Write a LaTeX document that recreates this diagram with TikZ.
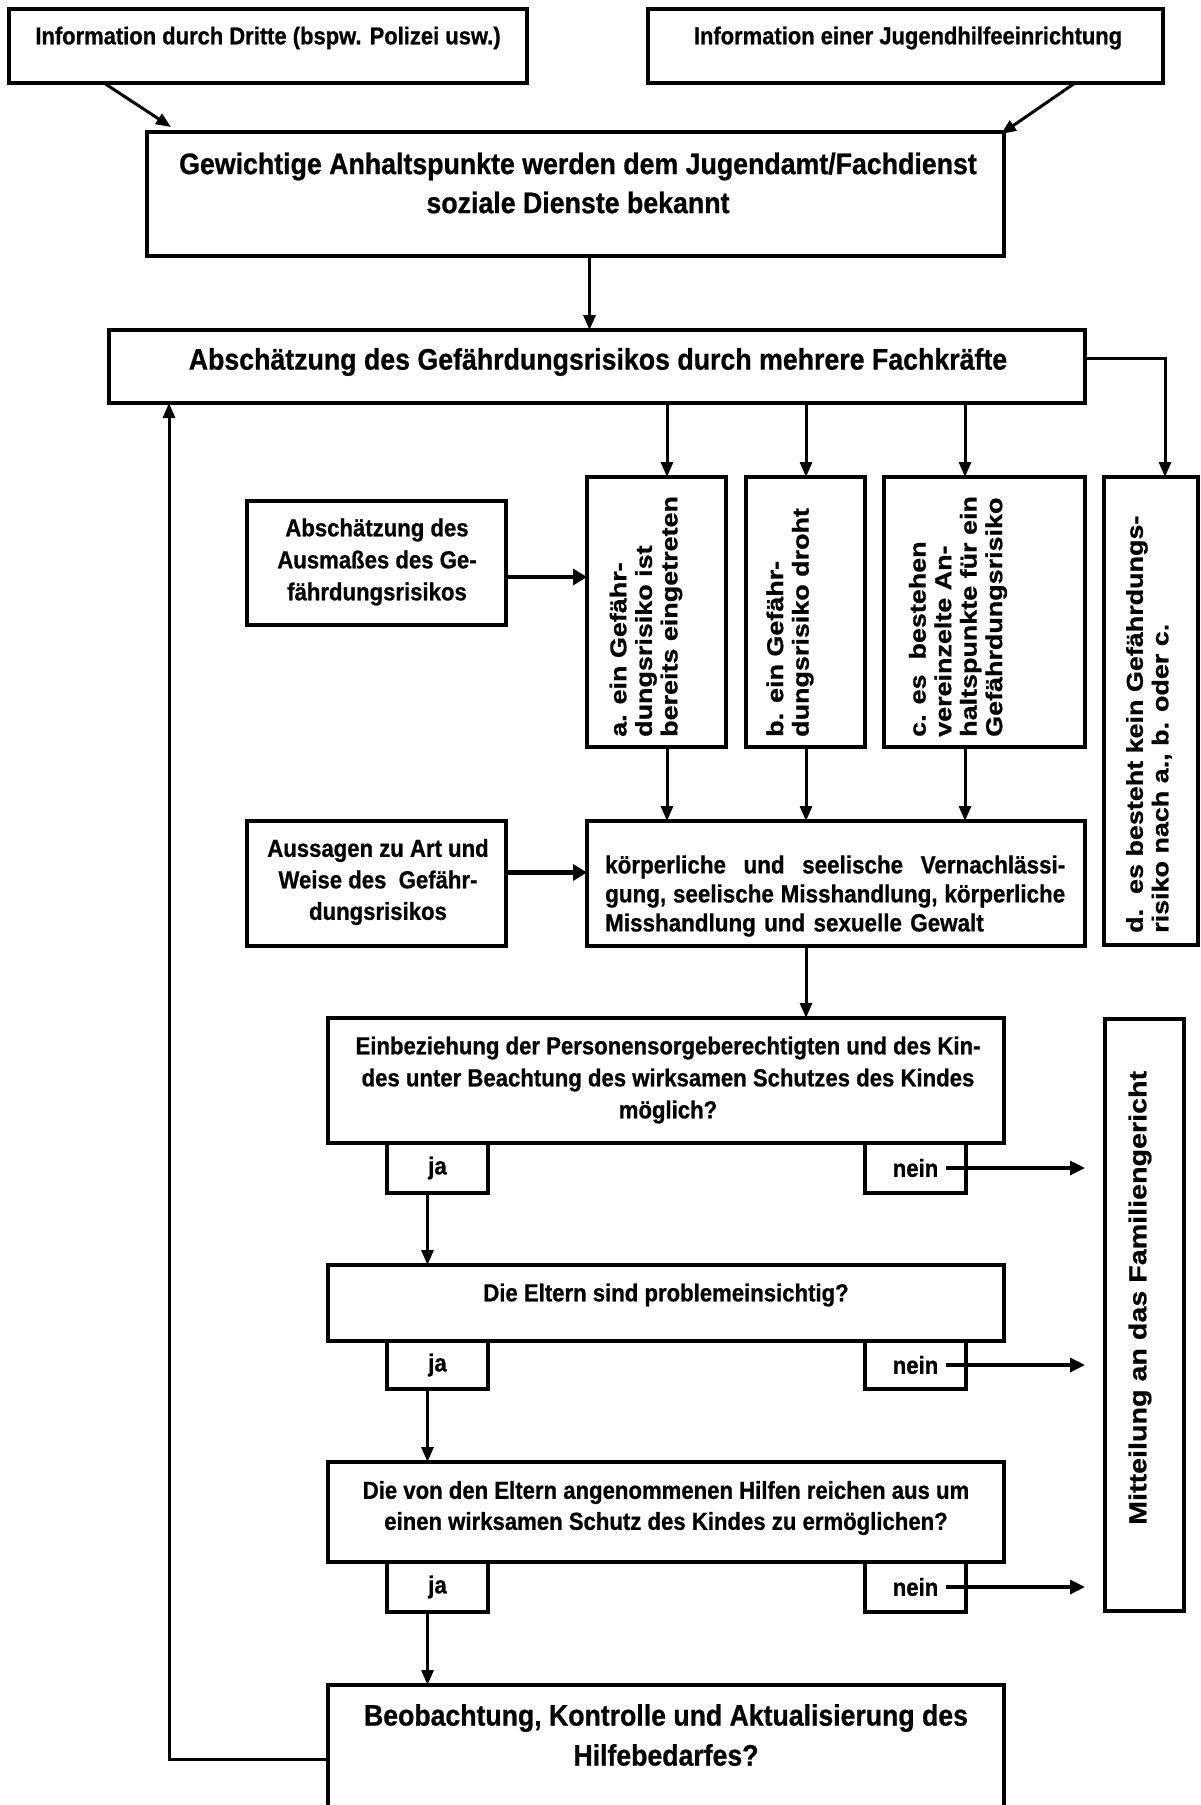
\documentclass[tikz,border=0pt]{standalone}
\usepackage{fontspec}
\setmainfont{Liberation Sans}[FakeStretch=0.9,FakeBold=0.8]
\newfontfamily\rotf{Liberation Sans}[FakeStretch=1.17,FakeBold=0.8]
\usetikzlibrary{arrows.meta,calc}
\newcommand\mybox[5]{\node[box, minimum width={#4-#2}, minimum height={#5-#3}] (#1) at (#2,#3) {};}
\newcommand\fullline[1]{\leavevmode\hbox to 460pt{#1}}
\begin{document}
\begin{tikzpicture}[x=1pt,y=-1pt,
  box/.style={draw, line width=3.3pt, rectangle, inner sep=0pt, outer sep=0pt, anchor=north west},
  arr/.style={line width=3pt, -{Triangle[length=15pt,width=12pt]}},
  thickarr/.style={line width=4.8pt, -{Triangle[length=14pt,width=16pt]}},
  neinarr/.style={line width=3.3pt, -{Triangle[length=15pt,width=14pt]}},
  fbig/.style={font=\bfseries\fontsize{29.7}{39}\selectfont},
  fmed/.style={font=\bfseries\fontsize{24.6}{32}\selectfont},
  txt/.style={inner sep=0pt, align=center},
  rtxt/.style={inner sep=0pt, rotate=90, anchor=west, align=left, font=\rotf\bfseries\fontsize{23}{25.5}\selectfont},
]
\useasboundingbox (0,0) rectangle (1200,1805);
\fill[white] (0,0) rectangle (1200,1805);
\clip (0,0) rectangle (1200,1805);

% boxes
\mybox{b1}{9}{9}{527}{83}
\mybox{b2}{648}{9}{1163}{83}
\mybox{b3}{147}{132}{1004}{256}
\mybox{b4}{109}{330}{1085}{403}
\mybox{ba}{587}{477}{726}{747}
\mybox{bb}{746}{477}{865}{747}
\mybox{bc}{884}{477}{1085}{747}
\mybox{bd}{1104}{477}{1198}{945}
\mybox{sa}{247}{501}{506}{625}
\mybox{sb}{247}{821}{506}{946}
\mybox{kp}{587}{821}{1085}{946}
\mybox{e1}{328}{1018}{1004}{1143}
\mybox{j1}{387}{1143}{488}{1193}
\mybox{n1}{865}{1143}{966}{1193}
\mybox{e2}{328}{1265}{1004}{1341}
\mybox{j2}{387}{1341}{488}{1389}
\mybox{n2}{865}{1341}{966}{1389}
\mybox{e3}{328}{1462}{1004}{1562}
\mybox{j3}{387}{1562}{488}{1612}
\mybox{n3}{865}{1562}{966}{1612}
\mybox{e4}{328}{1685}{1004}{1830}
\mybox{fam}{1105}{1019}{1184}{1611}

% texts
\node[txt, font=\bfseries\fontsize{24.4}{30}\selectfont] (b1t) at (268,38) {Information durch Dritte (bspw. Polizei usw.)};
\node[txt, font=\bfseries\fontsize{24.4}{30}\selectfont] (b2t) at (908,38) {Information einer Jugendhilfeeinrichtung};
\node[txt, fbig] (b3t) at (578,183) {Gewichtige Anhaltspunkte werden dem Jugendamt/Fachdienst\\soziale Dienste bekannt};
\node[txt, fbig] (b4t) at (598,362) {Abschätzung des Gefährdungsrisikos durch mehrere Fachkräfte};
\node[txt, fmed] (sat) at (377,562) {Abschätzung des\\Ausmaßes des Ge-\\fährdungsrisikos};
\node[txt, font=\bfseries\fontsize{24.6}{31.5}\selectfont] (sbt) at (378,882) {Aussagen zu Art und\\Weise des\ \ Gefähr-\\dungsrisikos};
\node[inner sep=0pt, anchor=west, align=left, text width=460pt, font=\bfseries\fontsize{24.9}{29}\selectfont] (kpt) at (605,896)
  {\fullline{körperliche\hfill und\hfill seelische\hfill Vernachlässi-}\\\fullline{gung,\hfill seelische\hfill Misshandlung,\hfill körperliche}\\Misshandlung und sexuelle Gewalt};
\node[txt, fmed] (e1t) at (668,1080) {Einbeziehung der Personensorgeberechtigten und des Kin-\\des unter Beachtung des wirksamen Schutzes des Kindes\\möglich?};
\node[txt, fmed] (e2t) at (666,1295) {Die Eltern sind problemeinsichtig?};
\node[txt, font=\bfseries\fontsize{24.6}{31}\selectfont] (e3t) at (666,1508) {Die von den Eltern angenommenen Hilfen reichen aus um\\einen wirksamen Schutz des Kindes zu ermöglichen?};
\node[txt, font=\bfseries\fontsize{29.6}{40}\selectfont] (e4t) at (666,1735) {Beobachtung, Kontrolle und Aktualisierung des\\Hilfebedarfes?};
\foreach \j in {j1,j2,j3} {\node[txt, fmed] (\j t) at (\j) {ja};}
\foreach \n in {n1,n2,n3} {\node[txt, fmed] (\n t) at (\n) {nein};}

\node[rtxt] (rat) at (646,737) {a. ein Gefähr-\\dungsrisiko ist\\bereits eingetreten};
\node[rtxt] (rbt) at (790,737) {b. ein Gefähr-\\dungsrisiko droht};
\node[rtxt] (rct) at (958,737) {c. es\ \ bestehen\\vereinzelte An-\\haltspunkte für ein\\Gefährdungsrisiko};
\node[rtxt] (rdt) at (1149,933) {d.\ \ es besteht kein Gefährdungs-\\risiko nach a., b. oder c.};
\node[rtxt, font=\rotf\bfseries\fontsize{24.5}{27}\selectfont] (rft) at (1140,1525) {Mitteilung an das Familiengericht};

% connectors
\coordinate (t1) at (171,127);
\coordinate (t2) at (1001,134);
\coordinate (xa) at (667,0);
\coordinate (xb) at (806,0);
\coordinate (xc) at (965,0);
\coordinate (xd) at (1165,0);
\coordinate (xf) at (169,0);
\draw[arr] ([xshift=95pt]b1.south west) -- (t1);
\draw[arr] ([xshift=-88pt]b2.south east) -- (t2);
\draw[arr] ([xshift=14pt]b3.south) -- ([xshift=14pt]b3.south |- b4.north);
\foreach \c in {xa,xb,xc} {
  \draw[arr] (\c |- b4.south) -- (\c |- ba.north);
  \draw[arr] (\c |- ba.south) -- (\c |- kp.north);
}
\draw[arr] (xb |- kp.south) -- (xb |- e1.north);
\draw[arr] ([yshift=-28pt]b4.north east) -| (xd |- bd.north);
\draw[thickarr] ([yshift=-14pt]sa.east) -- ([yshift=-14pt]sa.east -| ba.west);
\draw[thickarr] ([yshift=11pt]sb.east) -- ([yshift=11pt]sb.east -| kp.west);
\draw[arr] ([xshift=-10pt]j1.south) -- ([xshift=-10pt]j1.south |- e2.north);
\draw[arr] ([xshift=-10pt]j2.south) -- ([xshift=-10pt]j2.south |- e3.north);
\draw[arr] ([xshift=-10pt]j3.south) -- ([xshift=-10pt]j3.south |- e4.north);
\foreach \n in {n1t,n2t,n3t} {
  \draw[neinarr, shorten >=20pt] ([xshift=8pt]\n.east) -- (\n.east -| fam.west);
}
\draw[arr] (e4.west |- 0,1759) -| (xf |- b4.south);
\end{tikzpicture}
\end{document}
